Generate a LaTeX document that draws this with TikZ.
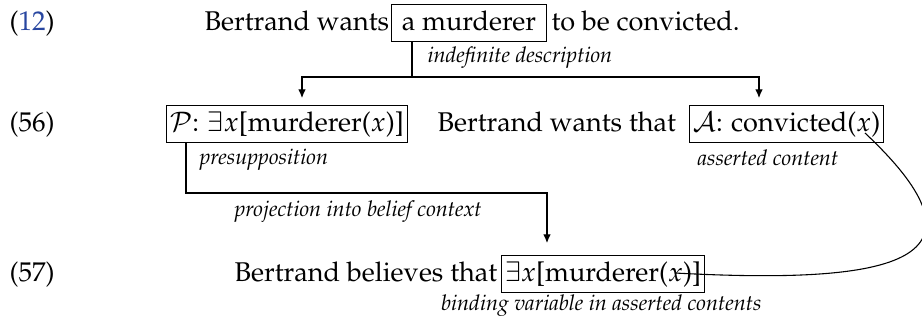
\documentclass[tikz,border=0pt]{standalone}
\usepackage[T1]{fontenc}
\usepackage{mathpazo}
\usepackage{xcolor}
\usepackage{tikz}
\usetikzlibrary{arrows.meta, positioning, calc}
\definecolor{linkblue}{RGB}{40,70,160}

\begin{document}
\begin{tikzpicture}[
        x=0.369pt, y=-0.369pt,
        plain/.style={anchor=base west, inner sep=0pt},
        box/.style={draw, anchor=base west, inner xsep=1.2pt, inner ysep=1.8pt, text height=7.5pt, text depth=2.5pt},
        note/.style={anchor=west, inner sep=0pt, font=\footnotesize\itshape},
        arrow/.style={-{Latex[length=3.2pt, width=2.8pt]}}
    ]
        \useasboundingbox (0,0) rectangle (922,322);

        \node[plain] (ex12) at (9,30) {(\textcolor{linkblue}{12})};
        \node[plain] (want) at (204,30) {Bertrand wants};
        \node[box, inner xsep=3.8pt] (mbox) at (391,30) {a murderer};
        \node[plain] (conv) at (551,30) {to be convicted.};
        \node[note] (indef) at (427,58) {indefinite description};

        \node[plain] (ex56) at (9,131) {(56)};
        \node[box] (pbox) at (166,131) {$\mathcal{P}$: $\exists x$[murderer($x$)]};
        \node[plain] (wantthat) at (437,131) {Bertrand wants that};
        \node[box] (abox) at (689,131) {$\mathcal{A}$: convicted($x$)};
        \node[note] (presup) at (199,160) {presupposition};
        \node[note] (assert) at (697,158) {asserted content};
        \node[note] (proj) at (234,212) {projection into belief context};

        \node[plain] (ex57) at (9,281) {(57)};
        \node[plain] (believe) at (234,281) {Bertrand believes that};
        \node[box] (bbox) at (501,281) {$\exists x$[murderer($x$)]};
        \node[note, anchor=east] (bind) at (762,306) {binding variable in asserted contents};

        \coordinate (fork) at (412,77);
        \coordinate (pin) at (302,98);
        \coordinate (ain) at (759,98);
        \coordinate (turn) at (547,193);
        \coordinate (bin) at (547,243);
        \coordinate (xa) at (865,133);
        \coordinate (xb) at (675,273);

        \draw (mbox.south -| fork) -- (fork);
        \draw[arrow] (fork) -| (pin);
        \draw[arrow] (fork) -| (ain);

        \draw[arrow] ($(pbox.south west)+(20,0)$) |- (turn) -- (bin);

        \draw (xa) .. controls +(135,127) and +(225,12) .. (xb);

    \end{tikzpicture}
\end{document}
